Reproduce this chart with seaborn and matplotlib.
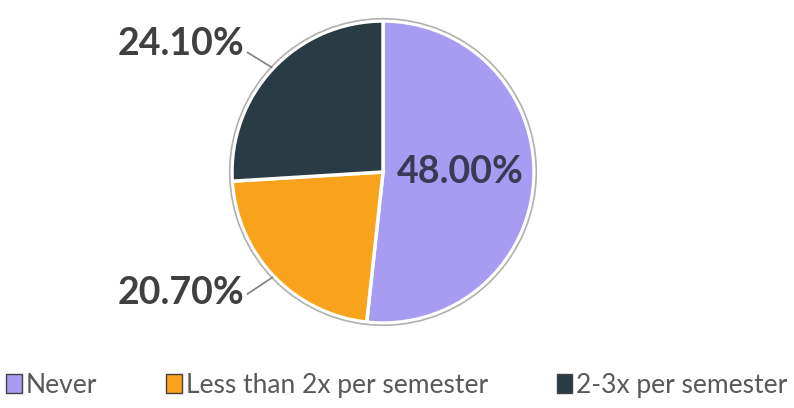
import numpy as np
import seaborn as sns
import matplotlib.pyplot as plt
from matplotlib.patches import Patch, Circle

labels = ['Never', 'Less than 2x per semester', '2-3x per semester']
values = [48.00, 20.70, 24.10]
colors = ['#a79cf2', '#f8a31b', '#293c45']

sns.set_theme(style="white")
plt.rcParams['font.family'] = ['Lato', 'DejaVu Sans']

fig = plt.figure(figsize=(7.94, 4.08), dpi=100)
ax = fig.add_axes([0, 0, 1, 1])

wedges, _ = ax.pie(values, colors=sns.color_palette(colors), startangle=90, counterclock=False,
                   wedgeprops=dict(edgecolor='white', linewidth=2.5))
ax.add_patch(Circle((0, 0), 1.015, fill=False, edgecolor='#b0b0b0', linewidth=1.2))

# pie placed so radius = 151 px, centre at (383, 172) from top
r = 151
ax.set_xlim(-383 / r, (794 - 383) / r)
ax.set_ylim(-(408 - 172) / r, 172 / r)
ax.set_aspect('auto')
ax.axis('off')

txt = dict(fontsize=27, fontweight='bold', color='#404040')

# inside label for the big slice
ax.text(0.51, 0.0, f'{values[0]:.2f}%', ha='center', va='center', color='#3a3a55',
        fontsize=27, fontweight='bold')

# outside labels with leader lines
label_pos = {1: (-1.34, -0.80), 2: (-1.34, 0.85)}
for i, (tx, ty) in label_pos.items():
    w = wedges[i]
    ang = np.deg2rad((w.theta1 + w.theta2) / 2)
    ex, ey = np.cos(ang) * 1.01, np.sin(ang) * 1.01
    ax.annotate(f'{values[i]:.2f}%', xy=(ex, ey), xytext=(tx, ty), ha='center', va='center',
                arrowprops=dict(arrowstyle='-', color='#808080', lw=1.2, shrinkA=0, shrinkB=0,
                                relpos=(0.98, 0.35)),
                **txt)

handles = [Patch(facecolor=c, edgecolor='#404040', linewidth=1.0) for c in colors]
fig.legend(handles, labels, loc='center', bbox_to_anchor=(0.5, 0.056), ncol=3, frameon=False,
           fontsize=19, labelcolor='#595959', handlelength=0.6, handleheight=0.7,
           handletextpad=0.15, columnspacing=2.6)

fig.savefig('out.png', dpi=100)
